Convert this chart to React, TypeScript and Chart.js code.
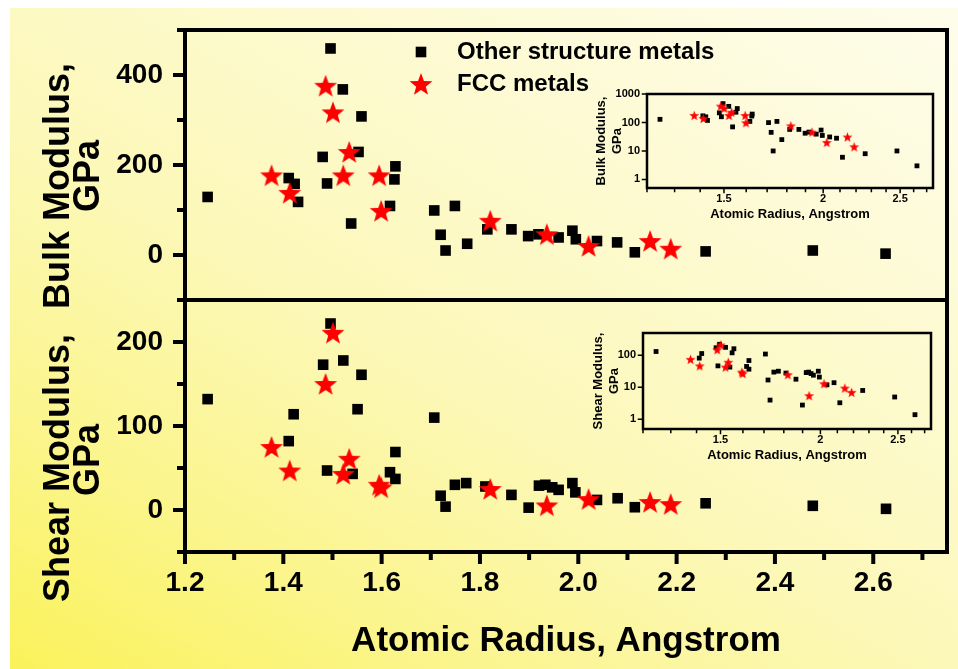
import React, { useEffect, useRef } from 'react';
import { Chart, registerables } from 'chart.js';

Chart.register(...registerables);

// ---------------- data ----------------
const fccRadius = [1.376, 1.413, 1.486, 1.501, 1.522, 1.534, 1.595, 1.599, 1.821, 1.936, 2.021, 2.146, 2.188];
const fccBulk = [177, 138, 376, 317, 177, 229, 177, 98, 76, 46, 20, 31, 14];
const fccShear = [75, 47, 150, 211, 43, 61, 30, 27, 25, 5.5, 13, 9.5, 7];

const otherBulkRadius = [1.246, 1.411, 1.423, 1.43, 1.48, 1.489, 1.496, 1.521, 1.538, 1.553, 1.559, 1.617, 1.626, 1.628, 1.707, 1.72, 1.73, 1.749, 1.774, 1.815, 1.864, 1.898, 1.919, 1.96, 1.988, 1.995, 2.038, 2.079, 2.115, 2.259, 2.477, 2.625];
const otherBulk = [129, 171, 158, 118, 218, 159, 459, 368, 70, 229, 308, 109, 168, 197, 99, 45, 10, 109, 25, 57, 57, 42, 46, 39, 54, 35, 31, 28, 6, 8, 10, 3];

const otherShearRadius = [1.246, 1.411, 1.421, 1.481, 1.489, 1.496, 1.522, 1.541, 1.551, 1.559, 1.617, 1.628, 1.628, 1.707, 1.72, 1.73, 1.749, 1.772, 1.811, 1.864, 1.899, 1.92, 1.933, 1.947, 1.96, 1.988, 1.994, 2.038, 2.08, 2.115, 2.259, 2.477, 2.626];
const otherShear = [132, 82, 114, 173, 47, 222, 178, 43, 120, 161, 45, 69, 37, 110, 17, 4, 30, 32, 28, 18, 2.8, 29, 30, 27, 24, 32, 21, 12, 14, 3.3, 8, 5, 1.4];

const legendLabels = ['Other structure metals', 'FCC metals'];
const bulkTitle = ['Bulk Modulus,', 'GPa'];
const shearTitle = ['Shear Modulus,', 'GPa'];
const xTitle = 'Atomic Radius, Angstrom';

const mainXTicks = [1.2, 1.3, 1.4, 1.5, 1.6, 1.7, 1.8, 1.9, 2.0, 2.1, 2.2, 2.3, 2.4, 2.5, 2.6, 2.7];
const mainXLabels = [1.2, 1.4, 1.6, 1.8, 2.0, 2.2, 2.4, 2.6];
const bulkTicks = [-100, 0, 100, 200, 300, 400, 500];
const bulkLabels = [0, 200, 400];
const shearTicks = [-50, 0, 50, 100, 150, 200, 250];
const shearLabels = [0, 100, 200];

const insetXTicks = [1.2, 1.3, 1.4, 1.5, 1.6, 1.7, 1.8, 1.9, 2.0, 2.1, 2.2, 2.3, 2.4, 2.5, 2.6, 2.7];
const insetXLabels = [1.5, 2, 2.5];
const insetBulkTicks = [1, 10, 100, 1000];
const insetShearTicks = [1, 10, 100];

// ---------------- helpers ----------------
const FONT = "'Liberation Sans', Arial, Helvetica, sans-serif";

const pts = (xs: number[], ys: number[]) => xs.map((x, i) => ({ x, y: ys[i] }));

function makeStar(outer: number, color: string): HTMLCanvasElement {
  const size = Math.ceil(outer * 2 + 2);
  const c = document.createElement('canvas');
  c.width = size;
  c.height = size;
  const ctx = c.getContext('2d')!;
  const cx = size / 2;
  const cy = size / 2 + outer * 0.09;
  const inner = outer * 0.42;
  ctx.beginPath();
  for (let i = 0; i < 10; i++) {
    const r = i % 2 === 0 ? outer : inner;
    const a = -Math.PI / 2 + (i * Math.PI) / 5;
    ctx.lineTo(cx + r * Math.cos(a), cy + r * Math.sin(a));
  }
  ctx.closePath();
  ctx.fillStyle = color;
  ctx.fill();
  return c;
}

const framePlugin = {
  id: 'frame',
  afterDraw(chart: any, _args: any, opts: any) {
    const { ctx, chartArea: a } = chart;
    ctx.save();
    ctx.strokeStyle = '#000';
    ctx.lineCap = 'butt';
    ctx.lineWidth = opts.tickWidth;
    for (const id of opts.tickScales) {
      const s = chart.scales[id];
      ctx.beginPath();
      s.ticks.forEach((t: any) => {
        const major = t.label !== '' && t.label != null;
        const len = (major ? opts.major : opts.minor) + opts.width / 2;
        if (s.isHorizontal()) {
          const x = s.getPixelForValue(t.value);
          ctx.moveTo(x, a.bottom);
          ctx.lineTo(x, a.bottom + len);
        } else {
          const y = s.getPixelForValue(t.value);
          ctx.moveTo(a.left, y);
          ctx.lineTo(a.left - len, y);
        }
      });
      ctx.stroke();
    }
    ctx.lineWidth = opts.width;
    ctx.strokeRect(a.left, a.top, a.right - a.left, a.bottom - a.top);
    (opts.dividers || []).forEach((id: string) => {
      const s = chart.scales[id];
      ctx.beginPath();
      ctx.moveTo(a.left, s.bottom);
      ctx.lineTo(a.right, s.bottom);
      ctx.stroke();
    });
    ctx.restore();
  },
};

const legendPlugin = {
  id: 'pointLegend',
  afterDraw(chart: any, _args: any, opts: any) {
    const ctx = chart.ctx;
    ctx.save();
    ctx.font = `bold ${opts.fontSize}px ${FONT}`;
    ctx.textBaseline = 'middle';
    ctx.textAlign = 'left';
    opts.datasets.forEach((dsIndex: number, i: number) => {
      const ds = chart.data.datasets[dsIndex];
      const y = opts.y + i * opts.gap;
      const style = ds.pointStyle;
      if (style instanceof HTMLCanvasElement) {
        ctx.drawImage(style, opts.markerX - style.width / 2, y - style.height / 2);
      } else {
        const half = ds.pointRadius * Math.SQRT1_2;
        ctx.fillStyle = ds.backgroundColor;
        ctx.fillRect(opts.markerX - half, y - half, half * 2, half * 2);
      }
      ctx.fillStyle = '#000';
      ctx.fillText(ds.label, opts.textX, y);
    });
    ctx.restore();
  },
};

// rotated two-line axis titles, each line centred along its own panel position
const sideTitlePlugin = {
  id: 'sideTitles',
  afterDraw(chart: any, _args: any, opts: any) {
    const ctx = chart.ctx;
    ctx.save();
    ctx.font = `bold ${opts.fontSize}px ${FONT}`;
    ctx.fillStyle = '#000';
    ctx.textAlign = 'center';
    ctx.textBaseline = 'middle';
    opts.items.forEach((it: any) => {
      it.lines.forEach((line: string, i: number) => {
        ctx.save();
        ctx.translate(opts.lineX[i], it.centers[i]);
        ctx.rotate(-Math.PI / 2);
        ctx.fillText(line, 0, 0);
        ctx.restore();
      });
    });
    ctx.restore();
  },
};

const tickFont = (size: number) => ({ family: FONT, weight: 'bold' as const, size });

// ---------------- main chart ----------------
function mainConfig(): any {
  const star = makeStar(12, '#ff0000');
  const squareStyle = { pointStyle: 'rect', pointRadius: 7.5, backgroundColor: '#000', borderWidth: 0 };
  const starStyle = { pointStyle: star, pointRadius: 11, backgroundColor: '#ff0000', borderWidth: 0 };
  const yCommon = (ticks: number[], labels: number[]) => ({
    type: 'linear',
    position: 'left',
    stack: 'panels',
    min: ticks[0],
    max: ticks[ticks.length - 1],
    afterBuildTicks: (s: any) => {
      s.ticks = ticks.map((value) => ({ value }));
    },
    afterFit: (s: any) => {
      s.width = 185;
    },
    grid: { display: false, drawTicks: true, tickLength: 22 },
    border: { display: false },
    ticks: {
      autoSkip: false,
      padding: 0,
      color: '#000',
      font: tickFont(28),
      callback: (v: number) => (labels.includes(v) ? String(v) : ''),
    },
    title: { display: false },
  });
  return {
    type: 'scatter',
    data: {
      datasets: [
        { label: legendLabels[0], data: pts(otherBulkRadius, otherBulk), yAxisID: 'yBulk', order: 1, ...squareStyle },
        { label: legendLabels[1], data: pts(fccRadius, fccBulk), yAxisID: 'yBulk', order: 0, ...starStyle },
        { label: legendLabels[0], data: pts(otherShearRadius, otherShear), yAxisID: 'yShear', order: 1, ...squareStyle },
        { label: legendLabels[1], data: pts(fccRadius, fccShear), yAxisID: 'yShear', order: 0, ...starStyle },
      ],
    },
    options: {
      responsive: false,
      animation: false,
      events: [],
      layout: { padding: { top: 30, right: 10, left: 0, bottom: 0 } },
      scales: {
        x: {
          type: 'linear',
          position: 'bottom',
          min: 1.2,
          max: 2.75,
          afterBuildTicks: (s: any) => {
            s.ticks = mainXTicks.map((value) => ({ value }));
          },
          afterFit: (s: any) => {
            s.height = 117;
          },
          grid: { display: false, drawTicks: true, tickLength: 14 },
          border: { display: false },
          ticks: {
            autoSkip: false,
            maxRotation: 0,
            minRotation: 0,
            padding: 0,
            color: '#000',
            font: tickFont(28),
            callback: (v: number) => (mainXLabels.includes(v) ? v.toFixed(1) : ''),
          },
          title: {
            display: true,
            text: xTitle,
            color: '#000',
            font: { family: FONT, weight: 'bold', size: 35 },
            padding: { top: 0, bottom: 7 },
          },
        },
        yBulk: { ...yCommon(bulkTicks, bulkLabels), stackWeight: 270, weight: 1 },
        yShear: { ...yCommon(shearTicks, shearLabels), stackWeight: 252, weight: 0 },
      },
      plugins: {
        legend: { display: false },
        tooltip: { enabled: false },
        frame: { width: 4, tickWidth: 4, major: 10, minor: 6, tickScales: ['x', 'yBulk', 'yShear'], dividers: ['yBulk'] },
        pointLegend: { datasets: [0, 1], markerX: 421, textX: 457, y: 52, gap: 32, fontSize: 24 },
        sideTitles: {
          fontSize: 36,
          lineX: [59.5, 89],
          items: [
            { lines: bulkTitle, centers: [186, 176] },
            { lines: shearTitle, centers: [468, 460] },
          ],
        },
      },
    },
    plugins: [framePlugin, legendPlugin, sideTitlePlugin],
  };
}

// ---------------- inset charts ----------------
interface InsetOpts {
  otherX: number[];
  otherY: number[];
  fccY: number[];
  yMin: number;
  yMax: number;
  yTicks: number[];
  title: string[];
  width: number;
  height: number;
  area: { left: number; top: number; right: number; bottom: number };
  yTitlePad: number;
  yTickPad: number;
  xTickPad: number;
  xTitlePad: number;
}

function insetConfig(o: InsetOpts): any {
  const star = makeStar(5.2, '#ff0000');
  return {
    type: 'scatter',
    data: {
      datasets: [
        { label: legendLabels[0], data: pts(o.otherX, o.otherY), order: 1, pointStyle: 'rect', pointRadius: 3.4, backgroundColor: '#000', borderWidth: 0 },
        { label: legendLabels[1], data: pts(fccRadius, o.fccY), order: 0, pointStyle: star, pointRadius: 5, backgroundColor: '#ff0000', borderWidth: 0 },
      ],
    },
    options: {
      responsive: false,
      animation: false,
      events: [],
      layout: { padding: { top: o.area.top, right: o.width - o.area.right, left: 0, bottom: 0 } },
      scales: {
        x: {
          type: 'logarithmic',
          position: 'bottom',
          min: 1.2,
          max: 2.75,
          afterBuildTicks: (s: any) => {
            s.ticks = insetXTicks.map((value) => ({ value }));
          },
          afterFit: (s: any) => {
            s.height = o.height - o.area.bottom;
          },
          grid: { display: false, drawTicks: true, tickLength: o.xTickPad },
          border: { display: false },
          ticks: {
            autoSkip: false,
            maxRotation: 0,
            minRotation: 0,
            padding: 0,
            color: '#000',
            font: tickFont(11),
            callback: (v: number) => (insetXLabels.includes(v) ? String(v) : ''),
          },
          title: {
            display: true,
            text: xTitle,
            color: '#000',
            font: { family: FONT, weight: 'bold', size: 13 },
            padding: { top: 0, bottom: o.xTitlePad },
          },
        },
        y: {
          type: 'logarithmic',
          position: 'left',
          min: o.yMin,
          max: o.yMax,
          afterBuildTicks: (s: any) => {
            s.ticks = o.yTicks.map((value) => ({ value }));
          },
          afterFit: (s: any) => {
            s.width = o.area.left;
          },
          grid: { display: false, drawTicks: true, tickLength: o.yTickPad },
          border: { display: false },
          ticks: {
            autoSkip: false,
            padding: 0,
            color: '#000',
            font: tickFont(11),
            callback: (v: number) => (o.yTicks.includes(v) ? String(v) : ''),
          },
          title: {
            display: true,
            text: o.title,
            color: '#000',
            font: { family: FONT, weight: 'bold', size: 13, lineHeight: 1.2 },
            padding: { top: o.yTitlePad, bottom: 0 },
          },
        },
      },
      plugins: {
        legend: { display: false },
        tooltip: { enabled: false },
        frame: { width: 2.5, tickWidth: 1.5, major: 4, minor: 3, tickScales: ['x', 'y'] },
      },
    },
    plugins: [framePlugin],
  };
}

// ---------------- component ----------------
export default function App() {
  const mainRef = useRef<HTMLCanvasElement>(null);
  const bulkRef = useRef<HTMLCanvasElement>(null);
  const shearRef = useRef<HTMLCanvasElement>(null);

  useEffect(() => {
    const charts: Chart[] = [];
    charts.push(new Chart(mainRef.current!, mainConfig()));
    charts.push(
      new Chart(
        bulkRef.current!,
        insetConfig({
          otherX: otherBulkRadius,
          otherY: otherBulk,
          fccY: fccBulk,
          yMin: 0.5,
          yMax: 1000,
          yTicks: insetBulkTicks,
          title: bulkTitle,
          width: 360,
          height: 145,
          area: { left: 62, top: 9, right: 348, bottom: 103 },
          yTitlePad: 9,
          yTickPad: 7,
          xTickPad: 4,
          xTitlePad: 8,
        })
      )
    );
    charts.push(
      new Chart(
        shearRef.current!,
        insetConfig({
          otherX: otherShearRadius,
          otherY: otherShear,
          fccY: fccShear,
          yMin: 0.5,
          yMax: 500,
          yTicks: insetShearTicks,
          title: shearTitle,
          width: 365,
          height: 170,
          area: { left: 63, top: 38, right: 351, bottom: 134 },
          yTitlePad: 11,
          yTickPad: 7,
          xTickPad: 4,
          xTitlePad: 2,
        })
      )
    );
    return () => charts.forEach((c) => c.destroy());
  }, []);

  const abs = (left: number, top: number, width: number, height: number): React.CSSProperties => ({
    position: 'absolute',
    left,
    top,
    width,
    height,
  });

  return (
    <div style={{ position: 'fixed', left: 0, top: 0, width: 958, height: 669, background: '#ffffff', overflow: 'hidden' }}>
      <div
        style={{
          position: 'absolute',
          left: 10,
          top: 8,
          right: 0,
          bottom: 0,
          background: 'linear-gradient(30deg, #faf25a 0%, #fbf58e 22%, #fcf8b8 45%, #fdfad2 70%, #fefdeb 100%)',
        }}
      />
      <canvas ref={mainRef} width={958} height={669} style={abs(0, 0, 958, 669)} />
      <canvas ref={bulkRef} width={360} height={145} style={abs(585, 85, 360, 145)} />
      <canvas ref={shearRef} width={365} height={170} style={abs(580, 295, 365, 170)} />
    </div>
  );
}
